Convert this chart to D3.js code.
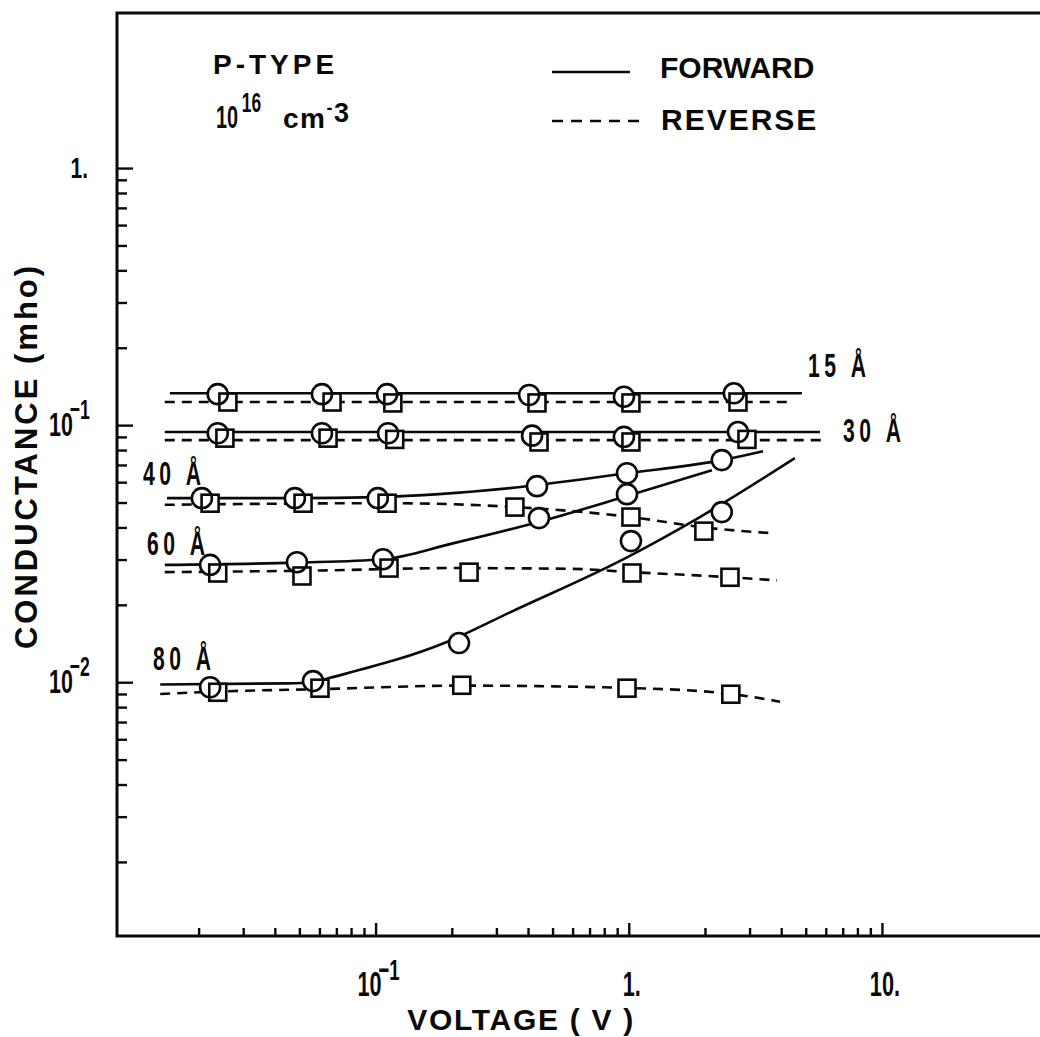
<!DOCTYPE html>
<html><head><meta charset="utf-8">
<script src="https://cdn.jsdelivr.net/npm/d3@7"></script>
<style>html,body{margin:0;padding:0;background:#fff}svg{display:block}</style>
</head><body>
<svg id="chart" width="1040" height="1037"></svg>
<script>
// ---------------- DATA ----------------
const thicknessLabels = ["15 Å", "30 Å", "40 Å", "60 Å", "80 Å"];
const legendLabels = ["FORWARD", "REVERSE"];
const xTickValues = [0.1, 1, 10];
const xTickBase = ["10", "1.", "10."];
const xTickSup = ["−1", "", ""];
const yTickValues = [0.01, 0.1, 1];
const yTickBase = ["10", "10", "1."];
const yTickSup = ["−2", "−1", ""];

// 15 Å
const fwd15X = [0.0238, 0.0614, 0.111, 0.404, 0.957, 2.60];
const fwd15Y = [0.132, 0.132, 0.132, 0.131, 0.129, 0.133];
const rev15X = [0.0261, 0.0673, 0.117, 0.434, 1.02, 2.70];
const rev15Y = [0.123, 0.123, 0.122, 0.122, 0.122, 0.123];
const fwd15FitX = [0.0154, 4.83];
const fwd15FitY = [0.133, 0.133];
const rev15FitX = [0.0147, 4.41];
const rev15FitY = [0.123, 0.123];
// 30 Å
const fwd30X = [0.0238, 0.0614, 0.112, 0.415, 0.957, 2.70];
const fwd30Y = [0.093, 0.093, 0.093, 0.091, 0.090, 0.094];
const rev30X = [0.0254, 0.0649, 0.119, 0.442, 1.02, 2.93];
const rev30Y = [0.089, 0.089, 0.088, 0.086, 0.086, 0.088];
const fwd30FitX = [0.0147, 5.69];
const fwd30FitY = [0.094, 0.094];
const rev30FitX = [0.0147, 5.96];
const rev30FitY = [0.0874, 0.0874];
// 40 Å
const fwd40X = [0.0206, 0.048, 0.102, 0.434, 0.984, 2.33];
const fwd40Y = [0.052, 0.052, 0.052, 0.0579, 0.065, 0.0731];
const rev40X = [0.0222, 0.0517, 0.111, 0.355, 1.02, 1.98];
const rev40Y = [0.0497, 0.0497, 0.0497, 0.048, 0.0439, 0.0387];
const fwd40FitX = [0.0150, 0.048, 0.102, 0.34, 0.984, 2.33, 3.39];
const fwd40FitY = [0.052, 0.052, 0.0525, 0.0569, 0.065, 0.0731, 0.0792];
const rev40FitX = [0.0147, 0.111, 0.355, 1.02, 1.98, 3.68];
const rev40FitY = [0.0490, 0.0497, 0.0480, 0.0439, 0.0400, 0.0380];
// 60 Å
const fwd60X = [0.0222, 0.0489, 0.107, 0.442, 0.984];
const fwd60Y = [0.0286, 0.0293, 0.0301, 0.0435, 0.0539];
const rev60X = [0.0238, 0.0512, 0.113, 0.234, 1.03, 2.51];
const rev60Y = [0.0266, 0.0259, 0.0278, 0.0268, 0.0266, 0.0256];
const fwd60FitX = [0.0147, 0.049, 0.107, 0.2, 0.44, 0.984, 2.13];
const fwd60FitY = [0.0286, 0.0292, 0.0301, 0.0346, 0.042, 0.053, 0.0668];
const rev60FitX = [0.0147, 0.06, 0.2, 0.6, 1.03, 2.51, 3.85];
const rev60FitY = [0.0268, 0.0272, 0.0278, 0.0276, 0.0268, 0.0256, 0.0249];
// 80 Å
const fwd80X = [0.0222, 0.0566, 0.2135, 1.02, 2.33];
const fwd80Y = [0.00956, 0.0101, 0.0142, 0.0354, 0.0459];
const rev80X = [0.0238, 0.0603, 0.219, 0.984, 2.53];
const rev80Y = [0.00914, 0.00948, 0.00973, 0.00948, 0.00898];
const fwd80FitX = [0.0141, 0.045, 0.0566, 0.066, 0.19, 0.34, 0.984, 1.91, 4.53];
const fwd80FitY = [0.0098, 0.0099, 0.0100, 0.0104, 0.0143, 0.0187, 0.0306, 0.0439, 0.0744];
const rev80FitX = [0.0141, 0.0238, 0.0603, 0.219, 0.984, 2.53, 3.96];
const rev80FitY = [0.0090, 0.0092, 0.0094, 0.0097, 0.0095, 0.0090, 0.0084];

// ---------------- DRAWING ----------------
const zip = (xs, ys) => xs.map((v, i) => [v, ys[i]]);
const series = [
  {fitF: zip(fwd15FitX, fwd15FitY), fitR: zip(rev15FitX, rev15FitY), ptsF: zip(fwd15X, fwd15Y), ptsR: zip(rev15X, rev15Y)},
  {fitF: zip(fwd30FitX, fwd30FitY), fitR: zip(rev30FitX, rev30FitY), ptsF: zip(fwd30X, fwd30Y), ptsR: zip(rev30X, rev30Y)},
  {fitF: zip(fwd40FitX, fwd40FitY), fitR: zip(rev40FitX, rev40FitY), ptsF: zip(fwd40X, fwd40Y), ptsR: zip(rev40X, rev40Y)},
  {fitF: zip(fwd60FitX, fwd60FitY), fitR: zip(rev60FitX, rev60FitY), ptsF: zip(fwd60X, fwd60Y), ptsR: zip(rev60X, rev60Y)},
  {fitF: zip(fwd80FitX, fwd80FitY), fitR: zip(rev80FitX, rev80FitY), ptsF: zip(fwd80X, fwd80Y), ptsR: zip(rev80X, rev80Y)}
];

const INK = "#0a0a0a";
const FONT = "'Liberation Sans', Arial, Helvetica, sans-serif";
const svg = d3.select("#chart").attr("font-family", FONT);
svg.append("rect").attr("width", 1040).attr("height", 1037).attr("fill", "#fff");

const x = d3.scaleLog().domain([0.00952, 42.1]).range([117, 1040]);
const y = d3.scaleLog().domain([0.00103, 4.01]).range([936, 13]);

// minor tick values (2..9 in each decade)
const mults = d3.range(2, 10);
const xMinor = [0.01, 0.1, 1].flatMap(d => mults.map(m => m * d));
const yMinor = [0.001, 0.01, 0.1].flatMap(d => mults.map(m => m * d));

function tickStyle(g) {
  g.select(".domain").remove();
  g.selectAll(".tick line").attr("stroke", INK).attr("stroke-width", 2.4);
  g.selectAll(".tick text").remove();
}
const x0 = x.range()[0], x1 = x.range()[1], yb = y.range()[0], yt = y.range()[1];
svg.append("g").attr("transform", `translate(0,${yb})`)
  .call(d3.axisBottom(x).tickValues(xMinor).tickSize(-8).tickFormat("")).call(tickStyle);
svg.append("g").attr("transform", `translate(0,${yb})`)
  .call(d3.axisBottom(x).tickValues(xTickValues).tickSize(-13).tickFormat("")).call(tickStyle);
svg.append("g").attr("transform", `translate(${x0},0)`)
  .call(d3.axisLeft(y).tickValues(yMinor).tickSize(-10).tickFormat("")).call(tickStyle);
svg.append("g").attr("transform", `translate(${x0},0)`)
  .call(d3.axisLeft(y).tickValues(yTickValues).tickSize(-16).tickFormat("")).call(tickStyle);

// frame: top, left, bottom (no right border visible)
svg.append("path")
  .attr("d", `M${x1},${yt}H${x0}V${yb}H${x1}`)
  .attr("fill", "none").attr("stroke", INK).attr("stroke-width", 3);

// condensed text helper
function cond(xp, yp, base, sup, size, supSize, sx, anchor, supDy, supDx) {
  const g = svg.append("g").attr("transform", `translate(${xp},${yp}) scale(${sx},1)`);
  const t = g.append("text").attr("font-size", size).attr("text-anchor", anchor)
    .attr("font-weight", "bold").attr("fill", INK);
  t.append("tspan").text(base);
  if (sup) t.append("tspan").attr("font-size", supSize).attr("dy", supDy).attr("dx", supDx).text(sup);
  return t;
}

// tick labels
xTickValues.forEach((v, i) => cond(x(v) + 3, yb + 60, xTickBase[i], xTickSup[i], 35, 30, 0.62, "middle", -16, -5));
yTickValues.forEach((v, i) => {
  if (yTickSup[i]) cond(49, y(v) + 11, yTickBase[i], yTickSup[i], 34, 28, 0.63, "start", -17, -5);
  else cond(88, y(v) + 10, yTickBase[i], "", 30, 0, 0.7, "end");
});

// data lines
const line = d3.line().x(d => x(d[0])).y(d => y(d[1])).curve(d3.curveMonotoneX);
const lines = svg.append("g").attr("fill", "none").attr("stroke", INK).attr("stroke-width", 2.6);
lines.selectAll("path.f").data(series).join("path").attr("class", "f").attr("d", d => line(d.fitF));
lines.selectAll("path.r").data(series).join("path").attr("class", "r").attr("d", d => line(d.fitR))
  .attr("stroke-dasharray", "10,7");

// markers
const sq = series.flatMap(s => s.ptsR), ci = series.flatMap(s => s.ptsF);
const S = 17, R = 10;
const mk = svg.append("g");
mk.selectAll("rect.bg").data(sq).join("rect").attr("class", "bg")
  .attr("x", d => x(d[0]) - S / 2).attr("y", d => y(d[1]) - S / 2).attr("width", S).attr("height", S).attr("fill", "#fff");
mk.selectAll("circle.bg").data(ci).join("circle").attr("class", "bg")
  .attr("cx", d => x(d[0])).attr("cy", d => y(d[1])).attr("r", R).attr("fill", "#fff");
mk.selectAll("rect.fg").data(sq).join("rect").attr("class", "fg")
  .attr("x", d => x(d[0]) - S / 2).attr("y", d => y(d[1]) - S / 2).attr("width", S).attr("height", S)
  .attr("fill", "none").attr("stroke", INK).attr("stroke-width", 2.6);
mk.selectAll("circle.fg").data(ci).join("circle").attr("class", "fg")
  .attr("cx", d => x(d[0])).attr("cy", d => y(d[1])).attr("r", R)
  .attr("fill", "none").attr("stroke", INK).attr("stroke-width", 2.6);

// thickness labels
const thickPos = [[808, 377], [843, 442], [143, 485], [147, 555], [153, 670]];
thicknessLabels.forEach((s, i) => {
  cond(thickPos[i][0], thickPos[i][1], s, "", 33, 0, 0.64, "start").attr("letter-spacing", 7);
});

// legend
svg.append("line").attr("x1", 552).attr("x2", 630).attr("y1", 72).attr("y2", 72)
  .attr("stroke", INK).attr("stroke-width", 2.6);
svg.append("line").attr("x1", 552).attr("x2", 640).attr("y1", 121).attr("y2", 121)
  .attr("stroke", INK).attr("stroke-width", 2.6).attr("stroke-dasharray", "11,8");
svg.append("text").attr("x", 660).attr("y", 78).attr("font-size", 30).attr("font-weight", "bold")
  .attr("fill", INK).text(legendLabels[0]);
svg.append("text").attr("x", 661).attr("y", 130).attr("font-size", 30).attr("font-weight", "bold")
  .attr("letter-spacing", 2).attr("fill", INK).text(legendLabels[1]);

// annotation
svg.append("text").attr("x", 213).attr("y", 74).attr("font-size", 28).attr("font-weight", "bold")
  .attr("letter-spacing", 4).attr("fill", INK).text("P-TYPE");
cond(216, 128, "10", "16", 32, 28, 0.62, "start", -16, 6);
const cm = svg.append("text").attr("x", 283).attr("y", 128).attr("font-size", 28).attr("font-weight", "bold")
  .attr("letter-spacing", 1.5).attr("fill", INK);
cm.append("tspan").text("cm");
cm.append("tspan").attr("dy", -14).attr("font-size", 18).text("-");
cm.append("tspan").attr("dy", 8).attr("font-size", 27).text("3");

// axis titles
svg.append("text").attr("transform", "translate(37,456) rotate(-90)").attr("text-anchor", "middle")
  .attr("font-size", 31).attr("font-weight", "bold").attr("letter-spacing", 3).attr("fill", INK)
  .text("CONDUCTANCE (mho)");
svg.append("text").attr("x", 521).attr("y", 1030).attr("text-anchor", "middle")
  .attr("font-size", 30).attr("font-weight", "bold").attr("letter-spacing", 1.7).attr("fill", INK)
  .text("VOLTAGE ( V )");
</script>
</body></html>
